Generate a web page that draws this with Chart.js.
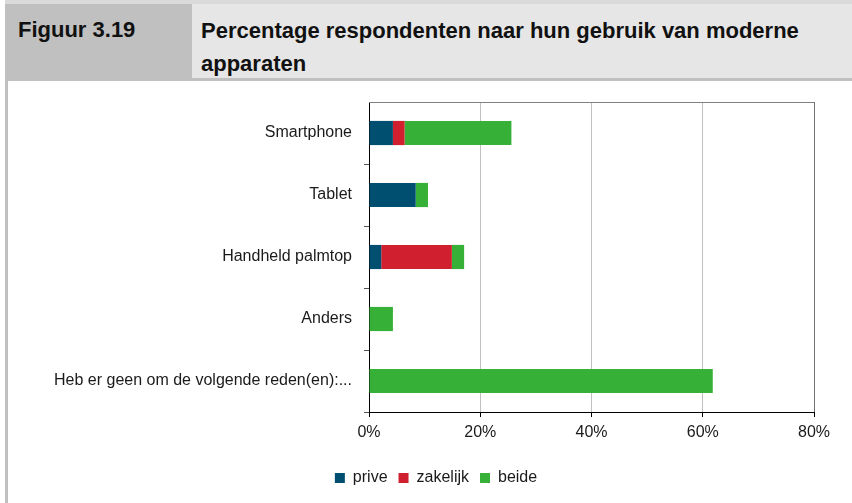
<!DOCTYPE html>
<html>
<head>
<meta charset="utf-8">
<script src="https://cdn.jsdelivr.net/npm/chart.js@4"></script>
<style>
  html, body { margin: 0; padding: 0; background: #ffffff; }
  body { width: 852px; height: 503px; position: relative; overflow: hidden; font-family: "Liberation Sans", Arial, sans-serif; }
  .topstripe { position: absolute; left: 5px; top: 0; width: 847px; height: 4px; background: #dadada; }
  .cellL { position: absolute; left: 5px; top: 4px; width: 187px; height: 77px; background: #c0c0c0; }
  .cellR { position: absolute; left: 192px; top: 4px; width: 660px; height: 74px; background: #e6e6e6; }
  .cellRb { position: absolute; left: 192px; top: 78px; width: 660px; height: 3px; background: #c0c0c0; }
  .leftborder { position: absolute; left: 5px; top: 81px; width: 3px; height: 422px; background: #c0c0c0; }
  .fig { position: absolute; left: 18px; top: 14px; font-weight: bold; font-size: 22px; line-height: 32px; color: #111; white-space: nowrap; }
  .title { position: absolute; left: 201px; top: 14px; font-weight: bold; font-size: 22px; line-height: 33px; color: #111; width: 640px; }
  #chart { position: absolute; left: 0; top: 0; }
</style>
</head>
<body>
<div class="topstripe"></div>
<div class="cellL"></div>
<div class="cellR"></div>
<div class="cellRb"></div>
<div class="leftborder"></div>
<div class="fig">Figuur 3.19</div>
<div class="title">Percentage respondenten naar hun gebruik van moderne<br>apparaten</div>
<canvas id="chart" width="852" height="503"></canvas>
<script>
const categories = ['Smartphone', 'Tablet', 'Handheld palmtop', 'Anders', 'Heb er geen om de volgende reden(en):...'];
const seriesNames = ['prive', 'zakelijk', 'beide'];
const prive = [4.3, 8.4, 2.2, 0, 0];
const zakelijk = [2.1, 0, 12.7, 0, 0];
const beide = [19.2, 2.2, 2.2, 4.3, 61.8];
const xTicks = [0, 20, 40, 60, 80];

Chart.defaults.font.family = '"Liberation Sans", Arial, sans-serif';
Chart.defaults.font.size = 16;
Chart.defaults.color = '#1a1a1a';

const topBorder = {
  id: 'topBorder',
  afterDraw(chart) {
    const a = chart.chartArea, c = chart.ctx;
    c.save();
    c.strokeStyle = '#808080';
    c.lineWidth = 1;
    c.beginPath();
    c.moveTo(a.left, a.top + 0.5);
    c.lineTo(a.right, a.top + 0.5);
    c.stroke();
    c.restore();
  }
};

new Chart(document.getElementById('chart'), {
  type: 'bar',
  data: {
    labels: categories,
    datasets: [
      { label: seriesNames[0], data: prive, backgroundColor: '#004f71' },
      { label: seriesNames[1], data: zakelijk, backgroundColor: '#d0202f' },
      { label: seriesNames[2], data: beide, backgroundColor: '#36b037' }
    ]
  },
  options: {
    indexAxis: 'y',
    responsive: false,
    animation: false,
    devicePixelRatio: 1,
    layout: { padding: { top: 102, left: 20, right: 0, bottom: 7 } },
    datasets: { bar: { barPercentage: 1, categoryPercentage: 0.39, borderWidth: 0 } },
    plugins: {
      legend: {
        position: 'bottom',
        labels: { boxWidth: 10, boxHeight: 10, padding: 11, font: { size: 16 }, color: '#1a1a1a' }
      },
      tooltip: { enabled: false }
    },
    scales: {
      x: {
        stacked: true,
        min: 0,
        max: 80,
        afterBuildTicks(scale) { scale.ticks = xTicks.map(v => ({ value: v })); },
        afterFit(scale) { scale.height = 47; },
        ticks: { padding: 6, callback: v => v + '%', color: '#1a1a1a' },
        grid: {
          color: ctx => (ctx.tick && ctx.tick.value === 80) ? '#707070' : '#c0c0c0',
          tickColor: '#000000',
          tickLength: 5,
          lineWidth: 1
        },
        border: { color: '#000000', width: 1 }
      },
      y: {
        stacked: true,
        afterFit(scale) { scale.width = 349; },
        ticks: { padding: 12, color: '#1a1a1a' },
        grid: {
          drawOnChartArea: false,
          offset: true,
          tickLength: 5,
          tickColor: ctx => ctx.index === 0 ? 'rgba(0,0,0,0)' : '#555555'
        },
        border: { color: '#000000', width: 1 }
      },
      yRight: {
        type: 'category',
        axis: 'y',
        position: 'right',
        afterFit(scale) { scale.width = 38; },
        ticks: { display: false },
        grid: { display: false, drawTicks: false },
        border: { display: false }
      }
    }
  },
  plugins: [topBorder]
});
</script>
</body>
</html>
